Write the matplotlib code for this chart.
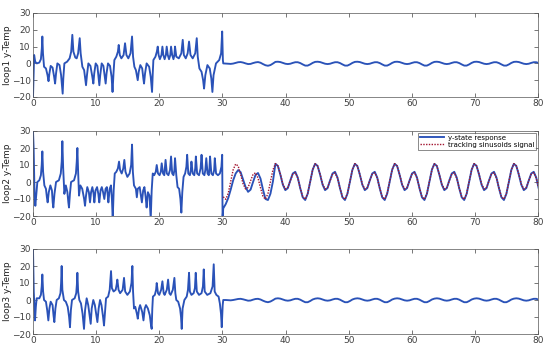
import numpy as np
import matplotlib
matplotlib.use("Agg")
import matplotlib.pyplot as plt

# ---------------- data ----------------
# shared time grid for the t > 30 part
t_after = 30.137 + np.arange(128) * 0.3935

# loop1 (t < 30): key samples
loop1_t = [0.00, 0.08, 0.18, 0.35, 0.6, 1.0, 1.25, 1.40, 1.48, 1.58, 1.75, 2.05, 2.3, 2.46, 2.6, 2.8,
           3.1, 3.35, 3.5, 3.65, 3.86, 4.2, 4.45, 4.62, 4.70, 4.8, 4.97, 5.4, 5.8, 6.05, 6.23, 6.4,
           6.7, 6.92, 7.15, 7.40, 7.55, 7.82, 8.1, 8.3, 8.40, 8.55, 8.77, 9.1, 9.4, 9.56, 9.7, 9.93,
           10.2, 10.4, 10.51, 10.65, 10.88, 11.15, 11.38, 11.51, 11.65, 11.88, 12.2, 12.45, 12.6, 12.75,
           12.89, 13.2, 13.45, 13.58, 13.75, 14.0, 14.35, 14.58, 14.8, 15.1, 15.45, 15.69, 15.85, 16.06,
           16.3, 16.5, 16.59, 16.75, 17.0, 17.3, 17.48, 17.59, 17.75, 18.0, 18.4, 18.65, 18.86, 18.97,
           19.07, 19.4, 19.62, 19.76, 19.9, 20.1, 20.35, 20.5, 20.65, 20.85, 21.05, 21.18, 21.35, 21.55,
           21.75, 21.87, 22.05, 22.25, 22.4, 22.5, 22.7, 23.1, 23.5, 23.72, 23.9, 24.2, 24.5, 24.72,
           24.95, 25.3, 25.7, 25.94, 26.1, 26.36, 26.7, 26.95, 27.1, 27.3, 27.63, 28.0, 28.25, 28.42,
           28.6, 28.99, 29.5, 29.8, 29.97, 30.08]
loop1_y = [-20, -8, 5, 1, 0, 0.5, 2.5, 9, 16, 6, -2, -3, -7, -10.6, -6, -1.5,
           -2.5, -8, -12, -6, 0, -1, -7, -15, -18, -9, 0, 1, 3, 7, 17, 7,
           3.5, 3, 6, 15, 6, -2, -4, -10, -13, -7, 0, -1.5, -8, -12, -6, 0,
           -1.5, -9, -13, -7, 0, -1.5, -8, -12, -6, 0, -1.5, -8, -17, -6,
           2, 4, 7, 11, 5, 3, 5, 12, 5, 3, 6, 16, 4, -2,
           -4, -8, -10, -5, -1, -3, -9, -12, -6, 0, -2, -8, -17, -6,
           2, 4, 7, 10, 5, 2.5, 5, 10, 5, 2.5, 5, 10, 5, 2.5,
           5, 10, 5, 2.5, 5, 10, 4, 3, 6, 14, 5, 3, 6, 13,
           5, 3, 6, 15, 4, -3, -5, -10, -15, -7, -1, -3, -9, -17,
           -7, 0, 2, 6, 19, 2]
loop1_after = [0.0, -0.1, -0.2, -0.3, -0.1, 0.3, 0.7, 0.8, 0.5, 0.0, -0.4, -0.3, 0.2, 0.6, 0.8, 0.4,
               -0.4, -1.1, -1.4, -1.0, -0.1,
               0.9, 1.0, 0.8, 0.3, -0.2, -0.4, -0.2, 0.3, 0.7, 0.7, 0.2, -0.6, -1.3, -1.3, -0.6, 0.3,
               0.9, 1.0, 0.8, 0.3, -0.2, -0.4, -0.2, 0.3, 0.7, 0.7, 0.2, -0.6, -1.3, -1.3, -0.6, 0.3,
               0.9, 1.0, 0.8, 0.3, -0.2, -0.4, -0.2, 0.3, 0.7, 0.7, 0.2, -0.6, -1.3, -1.3, -0.6, 0.3,
               0.9, 1.0, 0.8, 0.3, -0.2, -0.4, -0.2, 0.3, 0.7, 0.7, 0.2, -0.6, -1.3, -1.3, -0.6, 0.3,
               0.9, 1.0, 0.8, 0.3, -0.2, -0.4, -0.2, 0.3, 0.7, 0.7, 0.2, -0.6, -1.3, -1.3, -0.6, 0.3,
               0.9, 1.0, 0.8, 0.3, -0.2, -0.4, -0.2, 0.3, 0.7, 0.7, 0.2, -0.6, -1.3, -1.3, -0.6, 0.3,
               0.9, 1.0, 0.8, 0.3, -0.2, -0.4, -0.2, 0.3, 0.7, 0.7, 0.2]

# loop2 (t < 30)
loop2_t = [0.0, 0.1, 0.25, 0.37, 0.5, 0.69, 1.0, 1.25, 1.38, 1.48, 1.6, 1.8, 2.05, 2.2, 2.32, 2.5,
           2.75, 3.0, 3.12, 3.22, 3.4, 3.65, 4.1, 4.4, 4.55, 4.65, 4.78, 4.97, 5.2, 5.45, 5.6, 5.7,
           5.85, 6.03, 6.5, 6.8, 6.93, 7.03, 7.15, 7.29, 7.5, 7.8, 8.1, 8.24, 8.4, 8.6, 8.85, 9.03,
           9.2, 9.4, 9.6, 9.72, 9.9, 10.15, 10.35, 10.5, 10.7, 10.9, 11.1, 11.3, 11.5, 11.7, 11.85,
           11.94, 12.15, 12.35, 12.5, 12.63, 12.78, 12.95, 13.2, 13.45, 13.63, 13.8, 14.05, 14.3,
           14.47, 14.65, 14.95, 15.3, 15.55, 15.69, 15.82, 16.0, 16.3, 16.45, 16.6, 16.9, 17.1,
           17.25, 17.45, 17.65, 17.85, 18.0, 18.2, 18.45, 18.65, 18.8, 18.97, 19.2, 19.45, 19.6,
           19.8, 20.05, 20.25, 20.39, 20.6, 20.8, 21.0, 21.2, 21.45, 21.7, 21.87, 22.05, 22.25,
           22.4, 22.5, 22.7, 22.9, 23.15, 23.35, 23.5, 23.65, 23.85, 24.1, 24.3, 24.42, 24.6, 24.85,
           25.0, 25.1, 25.3, 25.55, 25.7, 25.8, 26.0, 26.3, 26.55, 26.7, 26.9, 27.15, 27.3, 27.45,
           27.65, 27.85, 27.95, 28.05, 28.25, 28.5, 28.7, 28.8, 29.0, 29.3, 29.6, 29.85, 29.97, 30.03]
loop2_y = [30, 20, -8, -14, -8, 0, 1, 4, 10, 18, 6, -2, -4, -9, -12, -6,
           -2, -5, -12, -15, -7, 0, 1, 5, 12, 24, 8, -7, -2, -6, -12, -15,
           -7, 0, 1, 5, 12, 20, 6, -8, -2, -4, -10, -14, -8, -3, -6, -12,
           -6, -3, -7, -12, -5, -3, -7, -12, -5, -3, -6, -10, -4, -3, -8,
           -12, -4, -2, -10, -22, -5, 5, 6, 8, 12, 7, 5, 8,
           13, 6, 3, 5, 10, 22, 6, -2, -4, -9, -4, -3, -8,
           -12, -5, -3, -9, -15, -6, -8, -22, -5, 5, 4, 6, 10,
           5, 4, 6, 11, 5, 4, 13, 5, 4, 7, 15, 5, 4,
           7, 14, 4, -3, -4, -10, -18, -6, 3, 5, 9, 16, 5, 4,
           7, 12, 5, 4, 8, 15, 5, 4, 8, 16, 5, 4, 7, 14,
           5, 4, 8, 15, 5, 4, 7, 14, 5, 4, 5, 9, 16, -21]
loop2_after = [-15.5, -13.0, -9.5, -4.5, 1.0, 5.0, 7.0, 5.8, 1.5, -3.0, -5.8, -4.5, 0.0, 4.2, 5.3, 2.0,
               -4.5, -10.0, -10.6, -6.9, 0.3,
               10.7, 9.4, 4.3, -1.6, -4.8, -3.6, 0.9, 5.0, 6.0, 2.6, -3.7, -9.0, -10.6, -6.9, 0.3, 7.2,
               10.7, 9.4, 4.3, -1.6, -4.8, -3.6, 0.9, 5.0, 6.0, 2.6, -3.7, -9.0, -10.6, -6.9, 0.3, 7.2,
               10.7, 9.4, 4.3, -1.6, -4.8, -3.6, 0.9, 5.0, 6.0, 2.6, -3.7, -9.0, -10.6, -6.9, 0.3, 7.2,
               10.7, 9.4, 4.3, -1.6, -4.8, -3.6, 0.9, 5.0, 6.0, 2.6, -3.7, -9.0, -10.6, -6.9, 0.3, 7.2,
               10.7, 9.4, 4.3, -1.6, -4.8, -3.6, 0.9, 5.0, 6.0, 2.6, -3.7, -9.0, -10.6, -6.9, 0.3, 7.2,
               10.7, 9.4, 4.3, -1.6, -4.8, -3.6, 0.9, 5.0, 6.0, 2.6, -3.7, -9.0, -10.6, -6.9, 0.3, 7.2,
               10.7, 9.4, 4.3, -1.6, -4.8, -3.6, 0.9, 5.0, 6.0, 2.6, -3.8]
tracking = [-8.7, -10.2, -6.7, 0.2, 7.2,
            10.6, 9.4, 4.5, -1.1, -4.1, -3.2, 0.6, 4.5, 5.4, 2.3, -3.4, -8.6, -10.1, -6.8, 0.1, 7.1,
            10.8, 9.5, 4.6, -1.2, -4.2, -3.1, 0.7, 4.6, 5.5, 2.4, -3.5, -8.7, -10.2, -6.7, 0.2, 7.2,
            10.7, 9.5, 4.5, -1.2, -4.2, -3.2, 0.7, 4.5, 5.4, 2.3, -3.5, -8.8, -10.3, -6.7, 0.3, 7.3,
            10.8, 9.4, 4.4, -1.3, -4.2, -3.2, 0.8, 4.6, 5.5, 2.3, -3.6, -8.7, -10.2, -6.6, 0.2, 7.2,
            10.8, 9.5, 4.5, -1.2, -4.1, -3.2, 0.7, 4.6, 5.6, 2.3, -3.5, -8.7, -10.2, -6.7, 0.2, 7.1,
            10.7, 9.5, 4.5, -1.2, -4.2, -3.3, 0.7, 4.5, 5.5, 2.2, -3.5, -8.6, -10.2, -6.7, 0.2, 7.2,
            10.8, 9.5, 4.5, -1.1, -4.2, -3.2, 0.7, 4.6, 5.5, 2.3, -3.5, -8.7, -10.1, -6.7, 0.2, 7.2,
            10.8, 9.5, 4.5, -1.2, -4.2, -3.2, 0.7, 4.6, 5.5, 2.3, -3.5]

# loop3 (t < 30)
loop3_t = [0.0, 0.12, 0.32, 0.45, 0.58, 1.0, 1.25, 1.38, 1.48, 1.6, 1.75, 2.05, 2.25, 2.43, 2.6, 2.8,
           3.1, 3.25, 3.38, 3.55, 3.75, 4.1, 4.35, 4.45, 4.54, 4.65, 4.9, 5.2, 5.5, 5.72, 5.86, 6.0,
           6.18, 6.6, 6.85, 6.95, 7.03, 7.15, 7.34, 7.6, 7.85, 8.0, 8.08, 8.25, 8.5, 8.75, 9.0, 9.14,
           9.3, 9.55, 9.8, 10.05, 10.2, 10.4, 10.62, 10.85, 11.1, 11.25, 11.45, 11.57, 11.9, 12.15,
           12.36, 12.5, 12.77, 13.1, 13.25, 13.36, 13.55, 13.8, 14.2, 14.42, 14.6, 14.95, 15.35, 15.6,
           15.74, 15.85, 16.0, 16.2, 16.45, 16.6, 16.8, 16.97, 17.3, 17.5, 17.7, 17.9, 18.2, 18.5,
           18.7, 18.8, 18.9, 19.0, 19.3, 19.5, 19.6, 19.8, 20.0, 20.3, 20.5, 20.7, 20.85, 21.2, 21.4,
           21.6, 21.8, 22.15, 22.4, 22.55, 22.7, 23.0, 23.3, 23.45, 23.56, 23.7, 23.98, 24.35, 24.55,
           24.72, 24.85, 25.1, 25.45, 25.65, 25.78, 25.95, 26.3, 26.7, 26.92, 27.05, 27.2, 27.6, 28.1,
           28.45, 28.63, 28.78, 29.05, 29.4, 29.6, 29.78, 29.9, 30.05]
loop3_y = [30, 5, -12, -4, 1, 1, 3, 8, 15, 5, 0, -1, -6, -12, -5, -1,
           -3, -9, -13, -5, 0, 1, 4, 10, 20, 6, 0, -1, -4, -10, -16, -6,
           0, 1, 4, 9, 16, 5, 0, -2, -8, -14, -17, -6, 1, -3, -10, -14,
           -5, 0, -3, -9, -13, -5, 0, -3, -10, -15, -5, 1, 2, 6,
           17, 7, 5, 6, 9, 12, 6, 4, 6, 13, 5, 3, 5, 10,
           20, 5, -5, -4, -8, -11, -5, -3, -7, -12, -5, -3, -5, -9,
           -15, -17, -5, 2, 3, 6, 10, 4, 3, 6, 11, 4, 3, 6, 12,
           4, 3, 6, 13, 4, 0, -1, -5, -10, -17, -5, 0, 2, 6,
           16, 5, 3, 4, 7, 16, 5, 3, 4, 8, 18, 5, 3, 4,
           8, 21, 5, 3, 2, -2, -8, -16, -3]
loop3_after = [0.0, 0.0, -0.1, -0.2, 0.0, 0.3, 0.6, 0.7, 0.4, 0.0, -0.4, -0.3, 0.2, 0.6, 0.7, 0.3,
               -0.4, -1.0, -1.3, -0.9, -0.1,
               0.8, 1.0, 0.8, 0.3, -0.2, -0.4, -0.2, 0.3, 0.7, 0.7, 0.2, -0.6, -1.3, -1.3, -0.6, 0.3,
               0.8, 1.0, 0.8, 0.3, -0.2, -0.4, -0.2, 0.3, 0.7, 0.7, 0.2, -0.6, -1.3, -1.3, -0.6, 0.3,
               0.8, 1.0, 0.8, 0.3, -0.2, -0.4, -0.2, 0.3, 0.7, 0.7, 0.2, -0.6, -1.3, -1.3, -0.6, 0.3,
               0.8, 1.0, 0.8, 0.3, -0.2, -0.4, -0.2, 0.3, 0.7, 0.7, 0.2, -0.6, -1.3, -1.3, -0.6, 0.3,
               0.8, 1.0, 0.8, 0.3, -0.2, -0.4, -0.2, 0.3, 0.7, 0.7, 0.2, -0.6, -1.3, -1.3, -0.6, 0.3,
               0.8, 1.0, 0.8, 0.3, -0.2, -0.4, -0.2, 0.3, 0.7, 0.7, 0.2, -0.6, -1.3, -1.3, -0.6, 0.3,
               0.8, 1.0, 0.8, 0.3, -0.2, -0.4, -0.2, 0.3, 0.7, 0.7, 0.2]

x_ticks = [0, 10, 20, 30, 40, 50, 60, 70, 80]
y_ticks = [-20, -10, 0, 10, 20, 30]
y_labels = ["loop1 y-Temp", "loop2 y-Temp", "loop3 y-Temp"]
legend_labels = ["y-state response", "tracking sinusoids signal"]

# ---------------- plot ----------------
BLUE = "#2A52B8"
RED = "#A2142F"
AXC = "#404040"

fig = plt.figure(figsize=(5.5, 3.51), dpi=100)
rects = [(33/550, 1-97/351, 505/550, 84/351),
         (33/550, 1-216/351, 505/550, 85/351),
         (33/550, 1-334/351, 505/550, 85/351)]
axes = [fig.add_axes(r) for r in rects]

series = [(loop1_t, loop1_y, loop1_after),
          (loop2_t, loop2_y, loop2_after),
          (loop3_t, loop3_y, loop3_after)]

for i, (ax, (tp, yp, ya)) in enumerate(zip(axes, series)):
    t_full = np.concatenate([np.array(tp), t_after])
    y_full = np.concatenate([np.array(yp), np.array(ya)])
    ax.plot(t_full, y_full, color=BLUE, lw=1.35, label=legend_labels[0])
    if i == 1:
        ax.plot(t_after, tracking, color=RED, lw=1.0, ls=(0, (1, 1)), label=legend_labels[1])
        leg = ax.legend(loc="upper right", fontsize=5, frameon=True, fancybox=False,
                        edgecolor="#333333", borderpad=0.3, handlelength=3.5,
                        labelspacing=0.1, borderaxespad=0.25, handletextpad=0.5)
        leg.get_frame().set_linewidth(0.5)
    ax.set_xlim(0, 80)
    ax.set_ylim(-20, 30)
    ax.set_xticks(x_ticks)
    ax.set_yticks(y_ticks)
    ax.tick_params(direction="in", length=3, width=0.5, top=True, right=True,
                   labelsize=6.5, colors=AXC, pad=1.5)
    for sp in ax.spines.values():
        sp.set_linewidth(0.5)
        sp.set_color("#555555")
    ax.set_ylabel(y_labels[i], fontsize=6.5, color="#222222")
    ax.yaxis.set_label_coords(-0.041, 0.5)

fig.savefig("out.png", dpi=100)
